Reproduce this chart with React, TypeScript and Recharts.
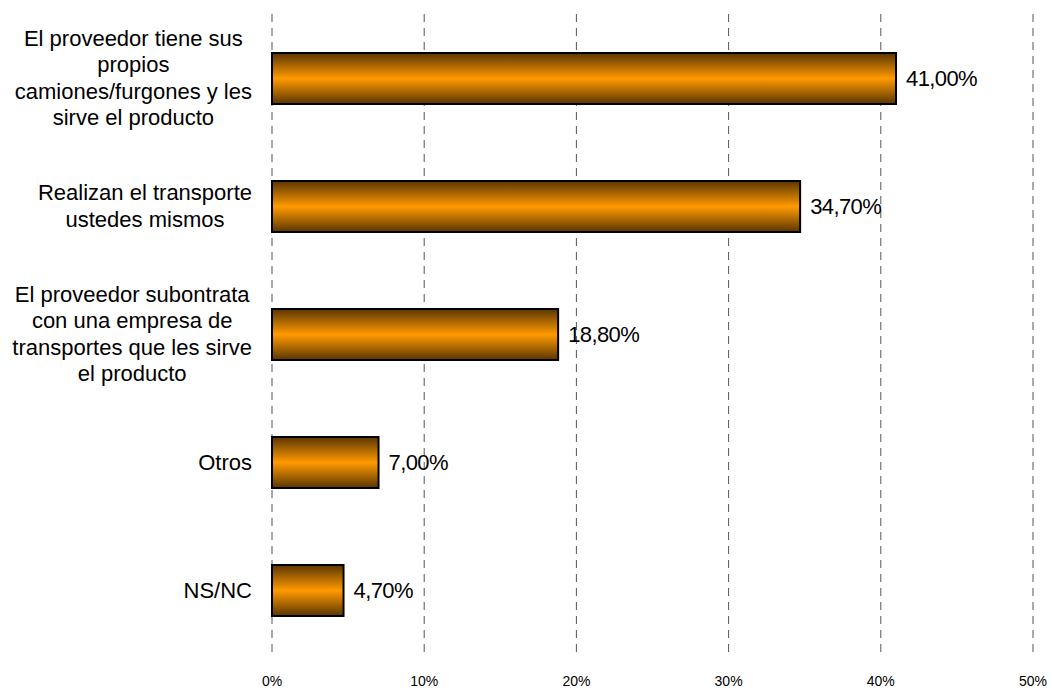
import { BarChart, Bar, XAxis, YAxis, CartesianGrid, LabelList } from "recharts";

const categories = [
  "El proveedor tiene sus\npropios\ncamiones/furgones y les\nsirve el producto",
  "Realizan el transporte\nustedes mismos",
  "El proveedor subontrata\ncon una empresa de\ntransportes que les sirve\nel producto",
  "Otros",
  "NS/NC",
];
const values = [41.0, 34.7, 18.8, 7.0, 4.7];
const xTicks = [0, 10, 20, 30, 40, 50];

const data = categories.map((name, i) => ({ name, value: values[i] }));

const FONT = "'Liberation Sans', Arial, Helvetica, sans-serif";
const LABEL_SIZE = 22;
const CAT_SPACING = 0;
const VAL_SPACING = -0.6;

let ctx: CanvasRenderingContext2D | null = null;
function textWidth(s: string) {
  if (!ctx) ctx = document.createElement("canvas").getContext("2d");
  if (!ctx) return s.length * 11;
  ctx.font = `${LABEL_SIZE}px ${FONT}`;
  return ctx.measureText(s).width + CAT_SPACING * s.length;
}

function CategoryTick({ x, y, payload }: any) {
  const lines = String(payload.value).split("\n");
  const lh = 26.5;
  const maxW = Math.max(...lines.map(textWidth));
  const right = x - 12;
  const cx = right - maxW / 2;
  const top = y - ((lines.length - 1) * lh) / 2;
  return (
    <text
      textAnchor="middle"
      fontSize={LABEL_SIZE}
      fontFamily={FONT}
      letterSpacing={CAT_SPACING}
      fill="#000"
    >
      {lines.map((l, i) => (
        <tspan key={i} x={cx} y={top + i * lh} dy="0.35em">
          {l}
        </tspan>
      ))}
    </text>
  );
}

function ValueLabel({ x, y, width, height, value }: any) {
  return (
    <text
      x={x + width + 10}
      y={y + height / 2}
      dy="0.35em"
      fontSize={LABEL_SIZE}
      fontFamily={FONT}
      letterSpacing={VAL_SPACING}
      fill="#000"
    >
      {Number(value).toFixed(2).replace(".", ",") + "%"}
    </text>
  );
}

export default function App() {
  return (
    <div style={{ position: "absolute", left: 0, top: 0, background: "#fff" }}>
      <BarChart
        width={1054}
        height={689}
        data={data}
        layout="vertical"
        margin={{ top: 14, right: 21, bottom: 0, left: 0 }}
        barCategoryGap={0}
      >
        <defs>
          <linearGradient id="orangeBar" x1="0" y1="0" x2="0" y2="1">
            <stop offset="0%" stopColor="#5a3600" />
            <stop offset="50%" stopColor="#ff9a00" />
            <stop offset="100%" stopColor="#5a3600" />
          </linearGradient>
        </defs>
        <CartesianGrid
          horizontal={false}
          stroke="#555"
          strokeDasharray="8 6"
        />
        <XAxis
          type="number"
          domain={[0, 50]}
          ticks={xTicks}
          tickFormatter={(v) => `${v}%`}
          axisLine={false}
          tickLine={false}
          tickSize={0}
          tickMargin={22}
          height={35}
          tick={{ fontSize: 14, fontFamily: FONT, fill: "#000" }}
        />
        <YAxis
          type="category"
          dataKey="name"
          width={272}
          axisLine={false}
          tickLine={false}
          tick={<CategoryTick />}
        />
        <Bar
          dataKey="value"
          barSize={51}
          fill="url(#orangeBar)"
          stroke="#000"
          strokeWidth={2}
          isAnimationActive={false}
        >
          <LabelList dataKey="value" content={<ValueLabel />} />
        </Bar>
      </BarChart>
    </div>
  );
}
